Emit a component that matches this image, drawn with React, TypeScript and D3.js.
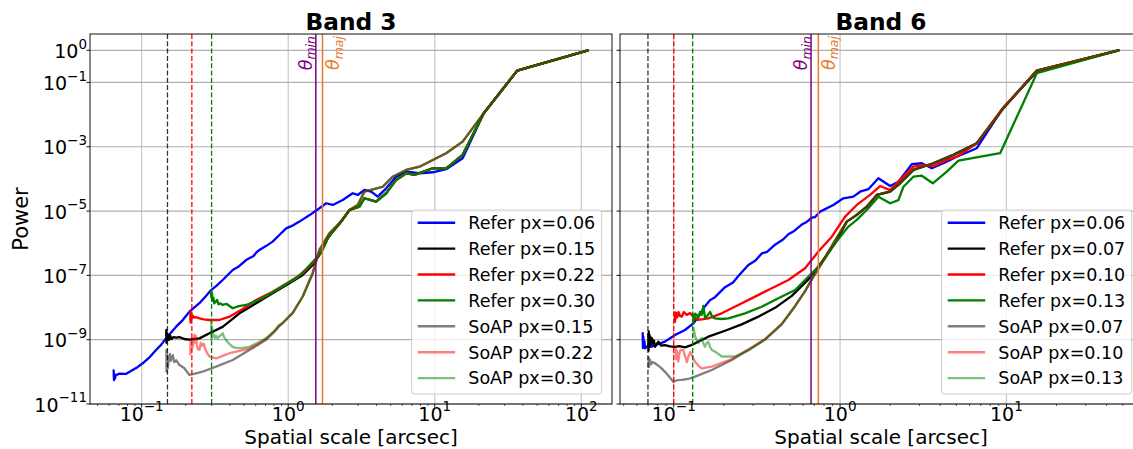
import React from "react";
import * as d3 from "d3";

type Pt = [number, number];

// ================= Band 3 =================
const b3ReferBlue: Pt[] = [
  [0.0644, 1.1e-10], [0.0647, 5.5e-11], [0.0652, 8.5e-11], [0.0658, 6.2e-11], [0.0666, 7.8e-11],
  [0.0705, 8.8e-11], [0.078, 8.6e-11], [0.0868, 1.14e-10], [0.0935, 1.4e-10], [0.1016, 1.85e-10],
  [0.112, 2.7e-10], [0.1254, 4.8e-10], [0.136, 7.0e-10], [0.1468, 1.11e-9], [0.1718, 2.54e-9],
  [0.19, 4.0e-9], [0.2118, 7.4e-9], [0.2477, 1.36e-8], [0.27, 2.1e-8], [0.2978, 3.5e-8],
  [0.325, 4.8e-8], [0.357, 7.2e-8], [0.418, 1.47e-7], [0.46, 1.9e-7], [0.516, 3.0e-7],
  [0.58, 4.0e-7], [0.61, 5.3e-7], [0.636, 6.2e-7], [0.7, 8.0e-7], [0.783, 1.12e-6],
  [0.87, 1.8e-6], [0.968, 2.9e-6], [1.08, 3.6e-6], [1.192, 4.7e-6], [1.4, 7.5e-6],
  [1.633, 1.22e-5], [1.815, 1.75e-5], [2.014, 1.55e-5], [2.356, 2.21e-5], [2.754, 3.58e-5],
  [2.98, 3.17e-5], [3.31, 4.53e-5], [3.68, 4.0e-5], [4.08, 2.8e-5], [4.66, 5.1e-5],
  [5.45, 1.17e-4], [6.38, 1.68e-4], [7.87, 1.5e-4], [9.69, 1.61e-4], [11.96, 2.0e-4],
  [15.5, 4.4e-4], [21.6, 1.1e-2], [36.5, 0.233], [111, 1.0],
];
const b3ReferTail: Pt[] = [
  [1.862, 1.43e-6], [2.014, 2.29e-6], [2.3, 4.7e-6], [2.62, 1.08e-5], [3.06, 1.37e-5],
  [3.31, 2.5e-5], [3.98, 1.96e-5], [4.66, 3.58e-5], [5.45, 9.3e-5], [6.38, 1.5e-4],
  [7.26, 1.33e-4], [9.69, 2.14e-4], [11.96, 2.14e-4], [15.5, 5.6e-4], [21.6, 1.1e-2],
  [36.5, 0.233], [111, 1.0],
];
const b3ReferBlack: Pt[] = [
  [0.147, 1.3e-9], [0.1473, 2.0e-9], [0.1476, 8.0e-10], [0.148, 1.7e-9], [0.1485, 9.0e-10],
  [0.149, 1.6e-9], [0.15, 9.5e-10], [0.152, 1.4e-9], [0.1545, 1.0e-9], [0.157, 1.3e-9],
  [0.16, 1.05e-9], [0.165, 1.2e-9], [0.172, 1.15e-9], [0.181, 1.2e-9], [0.195, 1.05e-9],
  [0.212, 1.0e-9], [0.23, 1.05e-9], [0.248, 1.1e-9], [0.29, 1.58e-9], [0.357, 2.5e-9],
  [0.465, 6.6e-9], [0.604, 1.36e-8], [0.783, 2.77e-8], [1.019, 5.7e-8], [1.256, 1.03e-7],
  [1.469, 2.1e-7], [1.687, 5.4e-7],
  ...b3ReferTail,
];
const b3ReferRed: Pt[] = [
  [0.215, 4.0e-9], [0.2153, 7.4e-9], [0.2157, 3.4e-9], [0.2163, 6.8e-9], [0.217, 4.2e-9],
  [0.219, 6.2e-9], [0.221, 4.6e-9], [0.223, 5.6e-9], [0.228, 4.9e-9], [0.235, 5.0e-9],
  [0.248, 4.6e-9], [0.265, 4.3e-9], [0.29, 4.1e-9], [0.339, 4.1e-9], [0.397, 5.2e-9],
  [0.489, 9.0e-9], [0.604, 1.72e-8], [0.783, 3.1e-8], [1.019, 6.4e-8], [1.256, 1.16e-7],
  [1.469, 2.4e-7], [1.687, 5.5e-7],
  ...b3ReferTail,
];
const b3ReferGreen: Pt[] = [
  [0.298, 2.2e-8], [0.2985, 3.1e-8], [0.3, 1.98e-8], [0.302, 2.8e-8], [0.305, 1.6e-8],
  [0.309, 2.0e-8], [0.313, 1.36e-8], [0.32, 1.5e-8], [0.327, 1.72e-8], [0.335, 1.25e-8],
  [0.345, 1.35e-8], [0.357, 1.2e-8], [0.38, 1.29e-8], [0.418, 9.5e-9], [0.46, 1.1e-8],
  [0.516, 1.2e-8], [0.67, 1.94e-8], [0.871, 3.97e-8], [1.133, 8.1e-8], [1.324, 1.58e-7],
  [1.51, 3.0e-7], [1.687, 5.5e-7],
  ...b3ReferTail,
];
const b3SoapTail: Pt[] = [
  [0.917, 3.3e-9], [1.074, 6.8e-9], [1.256, 2.2e-8], [1.469, 1.17e-7], [1.633, 6.2e-7],
  [1.91, 2.04e-6], [2.24, 4.2e-6], [2.62, 1.08e-5], [2.98, 1.55e-5], [3.31, 4.0e-5],
  [3.68, 4.53e-5], [4.42, 5.7e-5], [5.16, 1.17e-4], [6.38, 1.9e-4], [7.87, 2.4e-4],
  [9.69, 3.9e-4], [11.96, 6.3e-4], [15.5, 1.44e-3], [21.6, 1.1e-2], [36.5, 0.233], [111, 1.0],
];
const b3SoapGray: Pt[] = [
  [0.1475, 4.8e-10], [0.1478, 1.0e-10], [0.1482, 3.8e-10], [0.1487, 1.5e-10], [0.1495, 3.0e-10],
  [0.151, 1.3e-10], [0.153, 2.6e-10], [0.1557, 3.6e-10], [0.158, 2.2e-10], [0.163, 3.3e-10],
  [0.167, 2.0e-10], [0.172, 2.3e-10], [0.181, 1.63e-10], [0.195, 1.32e-10], [0.212, 8.0e-11],
  [0.235, 9.0e-11], [0.26, 1.01e-10], [0.322, 1.45e-10], [0.418, 2.34e-10], [0.543, 4.8e-10],
  [0.62, 6.8e-10], [0.707, 1.0e-9], [0.8, 1.7e-9], [0.86, 2.5e-9],
  ...b3SoapTail,
];
const b3SoapPink: Pt[] = [
  [0.215, 3.5e-10], [0.2155, 9.0e-10], [0.2162, 5.5e-10], [0.217, 8.0e-10], [0.219, 5.0e-10],
  [0.221, 7.0e-10], [0.223, 6.0e-10], [0.226, 1.0e-9], [0.229, 1.4e-9], [0.232, 8.0e-10],
  [0.235, 1.3e-9], [0.238, 7.0e-10], [0.242, 5.0e-10], [0.248, 4.8e-10], [0.253, 8.0e-10],
  [0.258, 6.5e-10], [0.265, 7.5e-10], [0.272, 5.0e-10], [0.28, 3.8e-10], [0.29, 3.0e-10],
  [0.322, 2.6e-10], [0.36, 3.2e-10], [0.397, 3.8e-10], [0.465, 4.5e-10], [0.543, 5.3e-10],
  [0.62, 7.3e-10], [0.707, 1.1e-9], [0.8, 1.8e-9], [0.86, 2.7e-9],
  ...b3SoapTail,
];
const b3SoapLightGreen: Pt[] = [
  [0.2985, 4.0e-9], [0.2995, 1.0e-9], [0.301, 2.5e-9], [0.305, 2.0e-9], [0.31, 1.3e-9],
  [0.316, 1.15e-9], [0.322, 1.35e-9], [0.33, 1.1e-9], [0.34, 1.3e-9], [0.35, 1.4e-9],
  [0.357, 1.6e-9], [0.365, 1.2e-9], [0.375, 1.0e-9], [0.39, 8.0e-10], [0.418, 6.0e-10],
  [0.44, 5.6e-10], [0.48, 5.5e-10], [0.543, 6.0e-10], [0.636, 8.5e-10], [0.707, 1.1e-9],
  [0.8, 1.8e-9], [0.86, 2.7e-9],
  ...b3SoapTail,
];

// ================= Band 6 =================
const b6ReferBlue: Pt[] = [
  [0.0651, 1.6e-9], [0.0653, 5.5e-10], [0.0656, 1.24e-9], [0.0662, 6.0e-10], [0.0667, 9.0e-10],
  [0.0672, 5.4e-10], [0.07, 6.5e-10], [0.0735, 6.0e-10], [0.0772, 6.8e-10], [0.0886, 8.7e-10],
  [0.1018, 1.4e-9], [0.1169, 2.0e-9], [0.1312, 3.2e-9], [0.142, 5.5e-9], [0.1543, 1.1e-8],
  [0.1653, 1.7e-8], [0.1771, 2.1e-8], [0.2034, 4.3e-8], [0.2273, 6.0e-8], [0.2446, 9.5e-8],
  [0.2809, 2.1e-7], [0.31, 2.9e-7], [0.3382, 4.8e-7], [0.364, 5.4e-7], [0.4065, 9.0e-7],
  [0.4542, 1.3e-6], [0.4888, 1.9e-6], [0.53, 2.4e-6], [0.5884, 3.8e-6], [0.63, 4.6e-6],
  [0.6759, 6.2e-6], [0.7077, 6.5e-6], [0.7581, 9.6e-6], [0.9115, 1.55e-5], [1.0467, 2.5e-5],
  [1.2022, 2.8e-5], [1.319, 4.0e-5], [1.4796, 4.8e-5], [1.6998, 1.05e-4], [1.9984, 6.0e-5],
  [2.2417, 8.2e-5], [2.698, 2.86e-4], [3.099, 3.07e-4], [3.559, 2.14e-4], [4.181, 3.07e-4],
  [5.032, 4.9e-4], [6.637, 9.0e-4], [9.5, 1.57e-2], [15.23, 0.217], [47.15, 1.0],
];
const b6SoapTail: Pt[] = [
  [1.0972, 4.7e-6], [1.26, 7.6e-6], [1.4473, 1.37e-5], [1.6627, 3.17e-5], [1.9984, 4.0e-5],
  [2.2953, 7.3e-5], [2.759, 1.9e-4], [3.639, 3.07e-4], [4.8, 5.6e-4], [6.637, 1.29e-3],
  [9.5, 1.5e-2], [15.23, 0.233], [47.15, 1.0],
];
const b6ReferBlack: Pt[] = [
  [0.0704, 1.5e-9], [0.0706, 4.5e-10], [0.0708, 1.8e-9], [0.0711, 6.0e-10], [0.0715, 1.4e-9],
  [0.072, 6.5e-10], [0.0726, 1.2e-9], [0.0733, 7.0e-10], [0.0741, 1.1e-9], [0.075, 7.5e-10],
  [0.076, 9.5e-10], [0.0772, 6.0e-10], [0.0808, 8.7e-10], [0.084, 6.5e-10], [0.0886, 6.8e-10],
  [0.095, 6.2e-10], [0.1018, 6.0e-10], [0.108, 6.3e-10], [0.1169, 5.8e-10], [0.125, 6.5e-10],
  [0.1343, 7.7e-10], [0.1615, 1.24e-9], [0.2034, 1.9e-9], [0.2563, 3.0e-9], [0.3227, 5.2e-9],
  [0.4065, 9.8e-9], [0.5124, 2.3e-8], [0.6448, 7.5e-8], [0.7762, 2.6e-7], [0.9331, 1.0e-6],
  ...b6SoapTail,
];
const b6ReferRed: Pt[] = [
  [0.1018, 3.6e-9], [0.1021, 7.0e-9], [0.1026, 4.5e-9], [0.1035, 6.8e-9], [0.105, 5.0e-9],
  [0.107, 7.2e-9], [0.109, 5.5e-9], [0.1117, 5.2e-9], [0.115, 7.3e-9], [0.1197, 5.9e-9],
  [0.1254, 6.7e-9], [0.1312, 5.2e-9], [0.1405, 4.1e-9], [0.1615, 4.6e-9], [0.1943, 6.6e-9],
  [0.2446, 1.2e-8], [0.3082, 2.18e-8], [0.3884, 4.0e-8], [0.4888, 7.2e-8], [0.6161, 1.66e-7],
  [0.7405, 5.5e-7], [0.8916, 1.6e-6], [1.0717, 6.7e-6], [1.26, 1.55e-5], [1.5147, 3.17e-5],
  [1.7402, 6.0e-5], [1.9984, 4.5e-5], [2.2953, 9.3e-5], [2.759, 2.4e-4], [3.169, 2.7e-4],
  [3.639, 2.5e-4], [4.381, 3.9e-4], [5.032, 4.9e-4], [6.637, 1.29e-3], [9.5, 1.57e-2],
  [15.23, 0.233], [47.15, 1.0],
];
const b6ReferGreen: Pt[] = [
  [0.1312, 3.2e-9], [0.1316, 6.0e-9], [0.1325, 4.0e-9], [0.1343, 6.5e-9], [0.1375, 5.9e-9],
  [0.1405, 4.8e-9], [0.1439, 7.3e-9], [0.1475, 6.0e-9], [0.1507, 1.12e-8], [0.1543, 4.7e-9],
  [0.158, 5.2e-9], [0.1654, 7.3e-9], [0.171, 5.0e-9], [0.1771, 4.6e-9], [0.195, 4.4e-9],
  [0.213, 4.6e-9], [0.2684, 6.6e-9], [0.3382, 1.06e-8], [0.4256, 1.94e-8], [0.5363, 3.5e-8],
  [0.6448, 9.1e-8], [0.7762, 2.4e-7], [0.9331, 1.0e-6], [1.1217, 3.3e-6], [1.26, 5.3e-6],
  [1.4796, 1.22e-5], [1.6998, 2.8e-5], [1.9984, 1.75e-5], [2.2417, 2.2e-5], [2.403, 5.7e-5],
  [2.759, 1.17e-4], [3.099, 1.26e-4], [3.609, 7.3e-5], [4.381, 1.68e-4], [5.145, 3.7e-4],
  [9.166, 6.3e-4], [15.23, 0.193], [47.15, 1.0],
];
const b6SoapGray: Pt[] = [
  [0.0706, 2.8e-10], [0.0709, 1.4e-10], [0.0712, 2.6e-10], [0.0716, 1.8e-10], [0.0722, 2.3e-10],
  [0.073, 1.7e-10], [0.0745, 2.0e-10], [0.0772, 1.85e-10], [0.083, 1.4e-10], [0.0886, 1.0e-10],
  [0.094, 7.0e-11], [0.0994, 4.9e-11], [0.105, 5.5e-11], [0.1117, 5.6e-11], [0.122, 6.0e-11],
  [0.1343, 7.1e-11], [0.1693, 1.14e-10], [0.2233, 2.34e-10], [0.2809, 4.8e-10], [0.354, 1.0e-9],
  [0.4461, 3.0e-9], [0.5363, 1.1e-8], [0.6161, 3.2e-8], [0.6759, 7.5e-8], [0.7762, 2.4e-7],
  [0.9115, 1.0e-6],
  ...b6SoapTail,
];
const b6SoapPink: Pt[] = [
  [0.1028, 6.0e-10], [0.1035, 2.5e-10], [0.1045, 4.5e-10], [0.1055, 3.0e-10], [0.1066, 2.07e-10],
  [0.108, 3.6e-10], [0.11, 4.8e-10], [0.114, 4.8e-10], [0.117, 3.0e-10], [0.12, 2.0e-10],
  [0.1225, 3.0e-10], [0.126, 4.1e-10], [0.129, 3.2e-10], [0.132, 2.4e-10], [0.1343, 2.07e-10],
  [0.14, 1.6e-10], [0.1473, 1.29e-10], [0.1693, 1.45e-10], [0.2233, 2.5e-10], [0.2809, 5.0e-10],
  [0.354, 1.05e-9], [0.4461, 3.1e-9], [0.5363, 1.12e-8], [0.6161, 3.3e-8], [0.6759, 7.6e-8],
  [0.7762, 2.45e-7], [0.9115, 1.0e-6],
  ...b6SoapTail,
];
const b6SoapLightGreen: Pt[] = [
  [0.1321, 2.3e-9], [0.1324, 1.3e-9], [0.133, 1.8e-9], [0.135, 1.2e-9], [0.1405, 7.7e-10],
  [0.144, 1.0e-9], [0.1473, 1.13e-9], [0.151, 7.5e-10], [0.1543, 6.0e-10], [0.158, 8.0e-10],
  [0.1615, 8.5e-10], [0.165, 6.0e-10], [0.1693, 4.8e-10], [0.1795, 4.1e-10], [0.1943, 3.0e-10],
  [0.2338, 3.0e-10], [0.2809, 4.6e-10], [0.354, 1.02e-9], [0.4461, 3.05e-9], [0.5363, 1.11e-8],
  [0.6161, 3.25e-8], [0.6759, 7.5e-8], [0.7762, 2.42e-7], [0.9115, 1.0e-6],
  ...b6SoapTail,
];

// ================= Labels / markers =================
const b3Labels = ["Refer px=0.06", "Refer px=0.15", "Refer px=0.22", "Refer px=0.30", "SoAP px=0.15", "SoAP px=0.22", "SoAP px=0.30"];
const b6Labels = ["Refer px=0.06", "Refer px=0.07", "Refer px=0.10", "Refer px=0.13", "SoAP px=0.07", "SoAP px=0.10", "SoAP px=0.13"];
const b3PixelLines = [0.15, 0.22, 0.3];
const b6PixelLines = [0.07, 0.1, 0.13];
const b3Beam = [1.543, 1.714]; // theta_min, theta_maj
const b6Beam = [0.669, 0.7405];
const yTickValues = [1, 1e-1, 1e-3, 1e-5, 1e-7, 1e-9, 1e-11];

const seriesColors = ["#0000ff", "#000000", "#ff0000", "#008000", "#000000", "#ff0000", "#008000"];
const seriesAlpha = [1, 1, 1, 1, 0.5, 0.5, 0.5];
const pixelLineColors = ["#000000", "#ff0000", "#008000"];

const W = 1133;
const H = 449;
const Y_TOP = 34;
const Y_BOT = 404;
const FONT = "'DejaVu Sans', 'Liberation Sans', sans-serif";
const TICK_FS = 19;
const SUP_FS = 13.5;
const LEG_FS = 17.5;

const yScale = d3.scaleLog().domain([1e-11, 3.21]).range([Y_BOT, Y_TOP]);

function expStr(v: number) {
  const e = Math.round(Math.log10(v));
  return e < 0 ? "\u2212" + String(-e) : String(e);
}

type PanelProps = {
  id: string;
  title: string;
  x0: number;
  x1: number;
  domain: [number, number];
  series: Pt[][];
  labels: string[];
  pixelLines: number[];
  beam: number[];
  showY: boolean;
};

function Panel(p: PanelProps) {
  const xs = d3.scaleLog().domain(p.domain).range([p.x0, p.x1]);
  const line = d3
    .line<Pt>()
    .x((d) => xs(d[0]))
    .y((d) => yScale(d[1]));
  const allTicks = xs.ticks();
  const isPow = (t: number) => Math.abs(Math.log10(t) - Math.round(Math.log10(t))) < 1e-9;
  const majorX = allTicks.filter(isPow);
  const minorX = allTicks.filter((t) => !isPow(t));
  const clipId = "clip-" + p.id;
  const midX = (p.x0 + p.x1) / 2;

  const legW = 190;
  const legH = 184;
  const legX = p.x1 - 10.3 - legW;
  const legY = Y_BOT - 10 - legH;
  const rowH = 25.9;

  const [thMin, thMaj] = p.beam;
  const thMinX = xs(thMin);
  const thMajX = xs(thMaj);

  return (
    <g>
      <defs>
        <clipPath id={clipId}>
          <rect x={p.x0} y={Y_TOP} width={p.x1 - p.x0} height={Y_BOT - Y_TOP} />
        </clipPath>
      </defs>
      {/* grid */}
      <g>
        {majorX.map((t) => (
          <line key={"gx" + t} x1={xs(t)} x2={xs(t)} y1={Y_TOP} y2={Y_BOT} stroke="#c8c8c8" strokeWidth={1.2} />
        ))}
        {yTickValues.map((t) => (
          <line key={"gy" + t} x1={p.x0} x2={p.x1} y1={yScale(t)} y2={yScale(t)} stroke="#b0b0b0" strokeWidth={1.2} />
        ))}
      </g>
      {/* data */}
      <g clipPath={`url(#${clipId})`}>
        {p.series.map((s, i) => (
          <path
            key={"s" + i}
            d={line(s) || ""}
            fill="none"
            stroke={seriesColors[i]}
            strokeOpacity={seriesAlpha[i]}
            strokeWidth={2.3}
            strokeLinejoin="round"
            strokeLinecap="round"
          />
        ))}
        {p.pixelLines.map((v, i) => (
          <line
            key={"pl" + i}
            x1={xs(v)}
            x2={xs(v)}
            y1={Y_TOP}
            y2={Y_BOT}
            stroke={pixelLineColors[i]}
            strokeOpacity={i === 0 ? 0.8 : 1}
            strokeWidth={1.3}
            strokeDasharray="5,2.3"
          />
        ))}
        <line x1={thMinX} x2={thMinX} y1={Y_TOP} y2={Y_BOT} stroke="#800080" strokeWidth={1.5} />
        <line x1={thMajX} x2={thMajX} y1={Y_TOP} y2={Y_BOT} stroke="#e8782c" strokeWidth={1.5} />
      </g>
      {/* beam labels */}
      <text
        transform={`translate(${thMinX - 4},36) rotate(-90)`}
        textAnchor="end"
        fontSize={17.5}
        fontStyle="italic"
        fill="#800080"
        fontFamily={FONT}
      >
        θ<tspan dy={3.5} fontSize={12.5}>min</tspan>
      </text>
      <text
        transform={`translate(${thMajX + 16.5},36) rotate(-90)`}
        textAnchor="end"
        fontSize={17.5}
        fontStyle="italic"
        fill="#e8782c"
        fontFamily={FONT}
      >
        θ<tspan dy={3.5} fontSize={12.5}>maj</tspan>
      </text>
      {/* spines */}
      <rect x={p.x0} y={Y_TOP} width={p.x1 - p.x0} height={Y_BOT - Y_TOP} fill="none" stroke="#111" strokeWidth={1} />
      {/* y ticks */}
      {yTickValues.map((t) => (
        <line key={"ty" + t} x1={p.x0 - 3.5} x2={p.x0} y1={yScale(t)} y2={yScale(t)} stroke="#111" strokeWidth={1} />
      ))}
      {p.showY &&
        yTickValues.map((t) => (
          <text key={"ly" + t} x={p.x0 - 3} y={yScale(t) + 7.6} textAnchor="end" fontSize={TICK_FS} fontFamily={FONT} fill="#000">
            10<tspan dy={-9.3} fontSize={SUP_FS}>{expStr(t)}</tspan>
          </text>
        ))}
      {/* x ticks */}
      {majorX.map((t) => (
        <line key={"tx" + t} x1={xs(t)} x2={xs(t)} y1={Y_BOT} y2={Y_BOT + 3.5} stroke="#111" strokeWidth={1} />
      ))}
      {minorX.map((t) => (
        <line key={"mx" + t} x1={xs(t)} x2={xs(t)} y1={Y_BOT} y2={Y_BOT + 2} stroke="#111" strokeWidth={0.7} />
      ))}
      {majorX.map((t) => (
        <text key={"lx" + t} x={xs(t)} y={Y_BOT + 16.5} textAnchor="middle" fontSize={TICK_FS} fontFamily={FONT} fill="#000">
          10<tspan dy={-9.3} fontSize={SUP_FS}>{expStr(t)}</tspan>
        </text>
      ))}
      {/* axis labels & title */}
      <text x={midX} y={444.2} textAnchor="middle" fontSize={20} fontFamily={FONT} fill="#000">
        Spatial scale [arcsec]
      </text>
      <text x={midX} y={30} textAnchor="middle" fontSize={23.3} fontWeight="bold" fontFamily={FONT} fill="#000">
        {p.title}
      </text>
      {p.showY && (
        <text transform={`translate(28,219) rotate(-90)`} textAnchor="middle" fontSize={21} fontFamily={FONT} fill="#000">
          Power
        </text>
      )}
      {/* legend */}
      <g>
        <rect x={legX} y={legY} width={legW} height={legH} rx={3} fill="#ffffff" fillOpacity={0.8} stroke="#cccccc" strokeWidth={1} />
        {p.labels.map((lab, i) => {
          const ry = legY + 12.7 + i * rowH;
          return (
            <g key={"lg" + i}>
              <line
                x1={legX + 6}
                x2={legX + 43.5}
                y1={ry}
                y2={ry}
                stroke={seriesColors[i]}
                strokeOpacity={seriesAlpha[i]}
                strokeWidth={2.4}
              />
              <text x={legX + 56.6} y={ry + 6.3} fontSize={LEG_FS} fontFamily={FONT} fill="#000">
                {lab}
              </text>
            </g>
          );
        })}
      </g>
    </g>
  );
}

export default function App() {
  const b3Series = [b3ReferBlue, b3ReferBlack, b3ReferRed, b3ReferGreen, b3SoapGray, b3SoapPink, b3SoapLightGreen];
  const b6Series = [b6ReferBlue, b6ReferBlack, b6ReferRed, b6ReferGreen, b6SoapGray, b6SoapPink, b6SoapLightGreen];
  return (
    <svg
      width={W}
      height={H}
      viewBox={`0 0 ${W} ${H}`}
      style={{ position: "absolute", left: 0, top: 0, background: "#fff" }}
      fontFamily={FONT}
    >
      <rect x={0} y={0} width={W} height={H} fill="#ffffff" />
      <Panel
        id="b3"
        title="Band 3"
        x0={90}
        x1={612}
        domain={[0.0444, 162]}
        series={b3Series}
        labels={b3Labels}
        pixelLines={b3PixelLines}
        beam={b3Beam}
        showY={true}
      />
      <Panel
        id="b6"
        title="Band 6"
        x0={620}
        x1={1142}
        domain={[0.04754, 65.3]}
        series={b6Series}
        labels={b6Labels}
        pixelLines={b6PixelLines}
        beam={b6Beam}
        showY={false}
      />
    </svg>
  );
}
